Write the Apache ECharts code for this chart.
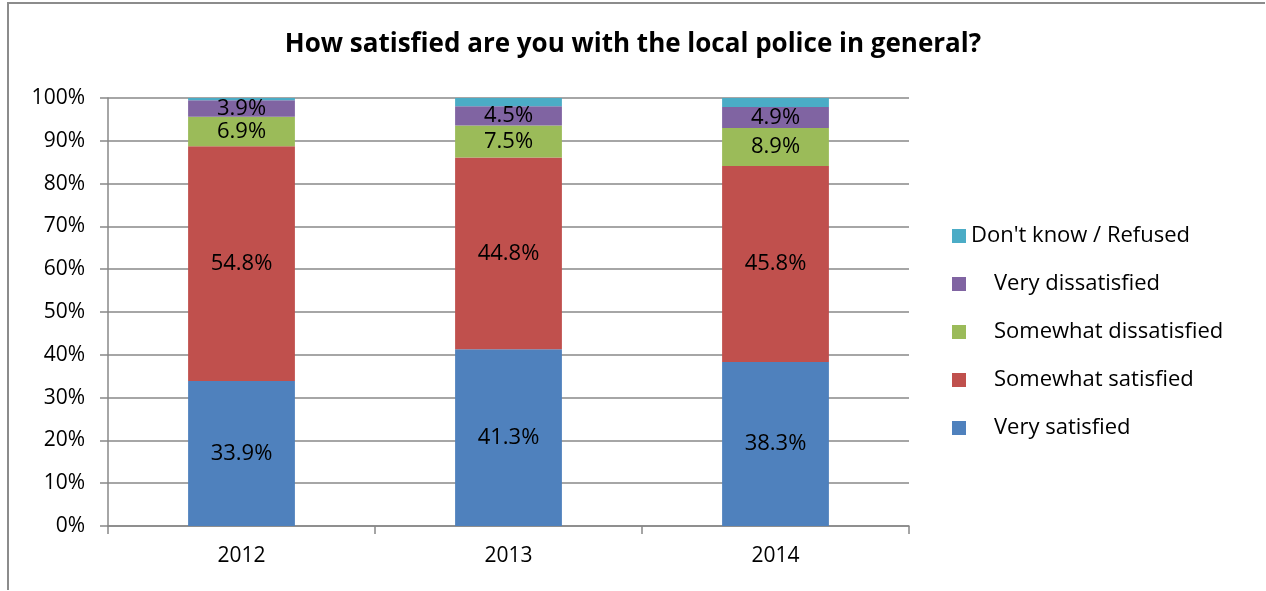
<!DOCTYPE html>
<html><head><meta charset="utf-8">
<script src="https://cdn.jsdelivr.net/npm/echarts@6/dist/echarts.min.js"></script>
<style>
html,body{margin:0;padding:0;background:#fff;}
#wrap{position:absolute;left:7px;top:2px;width:1258px;height:588px;border-left:2px solid #8c8c8c;border-top:2px solid #8c8c8c;box-sizing:border-box;}
#c{position:absolute;left:0;top:0;width:1266px;height:591px;}
</style></head>
<body>
<div id="wrap"></div>
<div id="c"></div>
<script>
var categories = ['2012', '2013', '2014'];
var verySatisfied = [33.9, 41.3, 38.3];
var somewhatSatisfied = [54.8, 44.8, 45.8];
var somewhatDissatisfied = [6.9, 7.5, 8.9];
var veryDissatisfied = [3.9, 4.5, 4.9];
var dontKnow = [0.5, 1.9, 2.1];
var yTicks = [0, 10, 20, 30, 40, 50, 60, 70, 80, 90, 100];

var FONT = 'Open Sans';
var chart = echarts.init(document.getElementById('c'), null, {renderer: 'canvas'});

function mk(name, data, color, showLabel) {
  return {
    name: name, type: 'bar', stack: 'total', data: data, barWidth: '40%',
    itemStyle: {color: color},
    label: {
      show: showLabel, position: 'inside', color: '#000', fontFamily: FONT, fontSize: 22,
      formatter: function (p) { return p.value.toFixed(1) + '%'; }
    },
    emphasis: {disabled: true}
  };
}

chart.setOption({
  animation: false,
  backgroundColor: 'transparent',
  title: {
    text: 'How satisfied are you with the local police in general?',
    left: 'center', top: 27,
    textStyle: {fontFamily: FONT, fontSize: 26, fontWeight: 'bold', color: '#000'}
  },
  grid: {left: 108, right: 357, top: 98, bottom: 65, containLabel: false},
  legend: {
    orient: 'vertical', left: 947, top: 220, itemWidth: 14, itemHeight: 14, itemGap: 26,
    icon: 'rect',
    data: ["Don't know / Refused", 'Very dissatisfied', 'Somewhat dissatisfied', 'Somewhat satisfied', 'Very satisfied'],
    formatter: function (n) { return n === "Don't know / Refused" ? '{a|' + n + '}' : '{b|' + n + '}'; },
    textStyle: {
      fontFamily: FONT, fontSize: 22, color: '#000',
      rich: {
        a: {fontFamily: FONT, fontSize: 22, color: '#000'},
        b: {fontFamily: FONT, fontSize: 22, color: '#000', padding: [0, 0, 0, 23]}
      }
    }
  },
  xAxis: {
    type: 'category', data: categories,
    axisLine: {lineStyle: {color: '#888', width: 1.5}},
    axisTick: {show: true, length: 8, lineStyle: {color: '#888', width: 1.5}},
    axisLabel: {fontFamily: FONT, fontSize: 21, color: '#000', margin: 20}
  },
  yAxis: {
    type: 'value', min: 0, max: 100, interval: 10,
    axisLine: {show: true, lineStyle: {color: '#888', width: 1.5}},
    axisTick: {show: true, length: 8, lineStyle: {color: '#888', width: 1.5}},
    splitLine: {lineStyle: {color: '#888', width: 1.5}},
    axisLabel: {fontFamily: FONT, fontSize: 21, color: '#000', margin: 23,
      formatter: function (v) { return yTicks.indexOf(v) >= 0 ? v + '%' : ''; }}
  },
  series: [
    mk('Very satisfied', verySatisfied, '#4F81BD', true),
    mk('Somewhat satisfied', somewhatSatisfied, '#C0504D', true),
    mk('Somewhat dissatisfied', somewhatDissatisfied, '#9BBB59', true),
    mk('Very dissatisfied', veryDissatisfied, '#8064A2', true),
    mk("Don't know / Refused", dontKnow, '#4BACC6', false)
  ]
});
</script>
</body></html>
